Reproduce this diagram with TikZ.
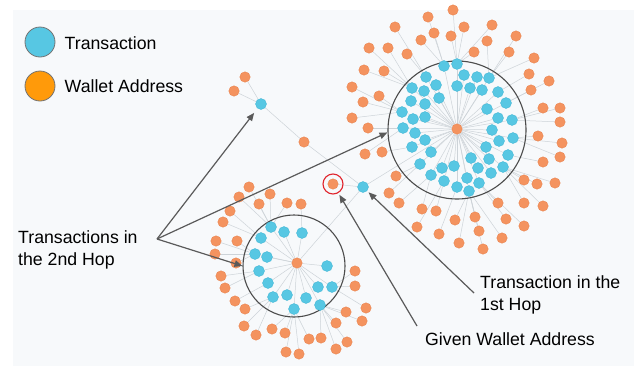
\documentclass[tikz,border=0pt]{standalone}
\usepackage{fontspec}
\setmainfont{Liberation Sans}
\usetikzlibrary{arrows.meta,backgrounds}
\definecolor{txblue}{HTML}{57C7E3}
\definecolor{txblueline}{HTML}{3DB3D2}
\definecolor{walletorange}{HTML}{F4935F}
\definecolor{walletline}{HTML}{E8804A}
\definecolor{legendorange}{HTML}{FF9A0A}
\definecolor{panel}{HTML}{F7F9FB}
\definecolor{edgegray}{HTML}{CDD3D8}
\definecolor{pointergray}{HTML}{5A5A5A}
\definecolor{givenred}{HTML}{E0242C}
\pgfdeclarelayer{edgelayer}
\pgfsetlayers{background,edgelayer,main}

% node positions (pixels of the picture)
\def\bigtx{444/66,457/64,426/77,464/75,477/77,489/78,436/85,457/86,470/88,482/90,498/92,412/88,424/91,411/101,439/98,425/104,506/103,402/112,413/119,425/117,487/109,498/118,512/120,403/128,415/133,492/130,499/141,513/138,412/147,425/140,431/152,486/147,471/158,489/159,508/155,420/164,442/168,454/166,478/168,503/167,491/173,431/175,444/181,467/178,479/183,457/187,469/191}
\def\bigwallets{453/10,428/17,464/27,492/25,395/27,434/33,451/36,516/36,421/40,487/41,369/48,388/48,407/54,474/52,509/52,534/58,364/70,384/71,529/74,549/81,352/87,379/96,531/90,363/102,543/108,560/108,352/118,560/122,368/128,538/136,562/143,365/154,382/152,560/157,543/162,396/176,389/193,524/180,537/184,555/183,399/203,422/209,436/211,417/227,439/234,455/220,475/217,459/243,479/231,483/249,498/203,506/219,502/238,524/203,543/206,524/226}
\def\smalltx{271/227,284/232,302/233,261/238,255/254,267/257,259/271,327/266,268/283,318/287,332/287,273/297,287/295,306/298,294/309,320/305}
\def\smallwallets{249/187,239/197,270/194,259/204,230/211,287/203,301/204,223/222,216/241,237/241,215/254,236/263,221/276,225/288,235/301,245/309,244/326,256/335,272/329,285/333,286/352,299/354,309/339,321/338,336/349,347/342,336/323,346/312,362/321,366/308,355/271,355/286}

\begin{document}
\begin{tikzpicture}[x=1pt,y=-1pt,
  tx/.style={circle,fill=txblue,draw=txblueline,line width=0.3pt,minimum size=11pt,inner sep=0pt},
  wallet/.style={circle,fill=walletorange,draw=walletline,line width=0.3pt,minimum size=10.5pt,inner sep=0pt},
  edge/.style={draw=edgegray,line width=0.5pt},
  ring/.style={circle,draw=black!70,line width=1.1pt,inner sep=0pt},
  pointer/.style={draw=pointergray,line width=1.2pt,-{Triangle[length=8pt,width=6.5pt]}},
  lbl/.style={font=\fontsize{17.7}{22.5}\selectfont,inner sep=0pt,align=left,anchor=west}]
\useasboundingbox (0,0) rectangle (634,370);
\begin{pgfonlayer}{background}
\fill[panel] (13,10) rectangle (634,366);
\end{pgfonlayer}

% legend
\node[circle,fill=txblue,draw=black!55,line width=0.8pt,minimum size=30pt] (legtx) at (40,42) {};
\node[lbl] (legtxlbl) at (64.5,43) {Transaction};
\node[circle,fill=legendorange,draw=black!55,line width=0.8pt,minimum size=30pt] (legwallet) at (40,86) {};
\node[lbl] (legwalletlbl) at (64.5,86) {Wallet Address};

% rings round the two clusters
\node[ring,minimum size=138pt] (bigring) at (457,130) {};
\node[ring,minimum size=102pt] (smallring) at (294,266) {};

% big cluster
\node[wallet] (bc) at (457,129) {};
\foreach \x/\y [count=\i] in \bigtx {
  \node[tx] (b\i) at (\x,\y) {};
  \begin{pgfonlayer}{edgelayer}\draw[edge] (bc) -- (b\i);\end{pgfonlayer}
}
\foreach \x/\y [count=\i] in \bigwallets {
  \node[wallet] (bw\i) at (\x,\y) {};
  \xdef\nearest{b1}\xdef\nearestd{999}
  \foreach \u/\v [count=\j] in \bigtx {
    \pgfmathsetmacro\dist{veclen(\x-\u,\y-\v)}
    \ifdim\dist pt<\nearestd pt \xdef\nearestd{\dist}\xdef\nearest{b\j}\fi
  }
  \begin{pgfonlayer}{edgelayer}\draw[edge] (bw\i) -- (\nearest);\end{pgfonlayer}
}

% small cluster
\node[wallet] (sc) at (297,263) {};
\foreach \x/\y [count=\i] in \smalltx {
  \node[tx] (s\i) at (\x,\y) {};
  \begin{pgfonlayer}{edgelayer}\draw[edge] (sc) -- (s\i);\end{pgfonlayer}
}
\foreach \x/\y [count=\i] in \smallwallets {
  \node[wallet] (sw\i) at (\x,\y) {};
  \xdef\nearest{s1}\xdef\nearestd{999}
  \foreach \u/\v [count=\j] in \smalltx {
    \pgfmathsetmacro\dist{veclen(\x-\u,\y-\v)}
    \ifdim\dist pt<\nearestd pt \xdef\nearestd{\dist}\xdef\nearest{s\j}\fi
  }
  \begin{pgfonlayer}{edgelayer}\draw[edge] (sw\i) -- (\nearest);\end{pgfonlayer}
}

% given wallet, first hop and the lone branch
\node[wallet] (given) at (333,184) {};
\node[circle,draw=givenred,line width=1.1pt,minimum size=20pt] (givenring) at (333,184) {};
\node[tx] (h1) at (363,187) {};
\node[wallet] (m1) at (304,142) {};
\node[tx] (t1) at (261,104) {};
\node[wallet] (ta) at (245,77) {};
\node[wallet] (tb) at (234,91) {};
\begin{pgfonlayer}{edgelayer}
\draw[edge] (given) -- (h1);
\draw[edge] (h1) -- (bc);
\draw[edge] (h1) -- (sc);
\draw[edge] (h1) -- (m1);
\draw[edge] (m1) -- (t1);
\draw[edge] (t1) -- (ta);
\draw[edge] (t1) -- (tb);
\end{pgfonlayer}

% labels and pointers
\node[lbl] (hop2lbl) at (18,250) {Transactions in\\the 2nd Hop};
\node[lbl] (hop1lbl) at (480,295) {Transaction in the\\1st Hop};
\node[lbl] (givenlbl) at (425,339) {Given Wallet Address};
\coordinate (hop2) at (157,239);
\coordinate (hop1) at (474,293);
\coordinate (givenfrom) at (417,326);
\draw[pointer,shorten >=5.5pt] (hop2) -- (t1);
\draw[pointer] (hop2) -- (bigring.182);
\draw[pointer] (hop2) -- (smallring.west);
\draw[pointer,shorten >=2pt] (hop1) -- (h1);
\draw[pointer,shorten >=2pt] (givenfrom) -- (givenring);
\end{tikzpicture}
\end{document}
